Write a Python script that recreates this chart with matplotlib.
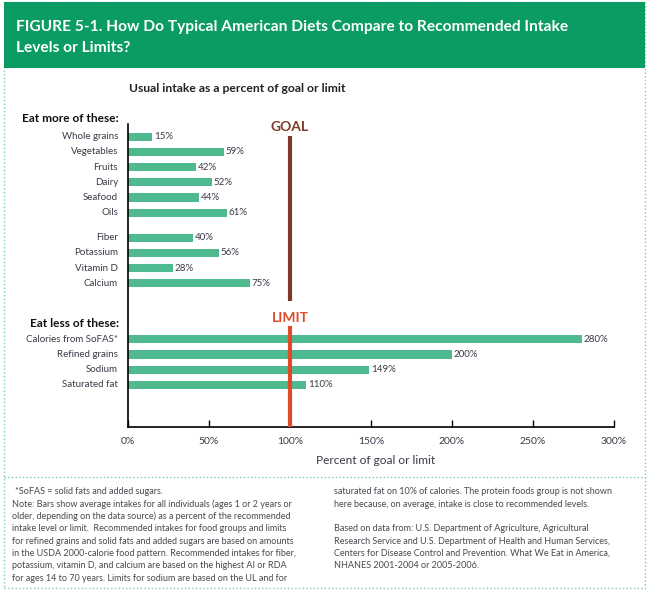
import matplotlib
matplotlib.use('Agg')
import matplotlib.pyplot as plt
from matplotlib.patches import Rectangle
from matplotlib.lines import Line2D

plt.rcParams['font.family'] = ['Lato', 'DejaVu Sans']

# data
more_labels = ['Whole grains', 'Vegetables', 'Fruits', 'Dairy', 'Seafood', 'Oils']
more_values = [15, 59, 42, 52, 44, 61]
nutrient_labels = ['Fiber', 'Potassium', 'Vitamin D', 'Calcium']
nutrient_values = [40, 56, 28, 75]
less_labels = ['Calories from SoFAS*', 'Refined grains', 'Sodium', 'Saturated fat']
less_values = [280, 200, 149, 110]
x_ticks = [0, 50, 100, 150, 200, 250, 300]
goal = 100

title_lines = ['FIGURE 5-1. How Do Typical American Diets Compare to Recommended Intake',
               'Levels or Limits?']
notes_left = [
    '*SoFAS = solid fats and added sugars.',
    'Note: Bars show average intakes for all individuals (ages 1 or 2 years or',
    'older, depending on the data source) as a percent of the recommended',
    'intake level or limit.  Recommended intakes for food groups and limits',
    'for refined grains and solid fats and added sugars are based on amounts',
    'in the USDA 2000-calorie food pattern. Recommended intakes for fiber,',
    'potassium, vitamin D, and calcium are based on the highest AI or RDA',
    'for ages 14 to 70 years. Limits for sodium are based on the UL and for',
]
notes_right = [
    'saturated fat on 10% of calories. The protein foods group is not shown',
    'here because, on average, intake is close to recommended levels.',
    '',
    'Based on data from: U.S. Department of Agriculture, Agricultural',
    'Research Service and U.S. Department of Health and Human Services,',
    'Centers for Disease Control and Prevention. What We Eat in America,',
    'NHANES 2001-2004 or 2005-2006.',
]

header_green = '#0a9c63'
bar_green = '#4fb98f'
border_green = '#78cfa8'
goal_brown = '#7a3a27'
limit_red = '#df4a2a'
label_col = '#3b3947'
note_col = '#4a4850'

W, H = 650, 591
fig = plt.figure(figsize=(W / 100, H / 100), dpi=100)


def fx(px):
    return px / W


def fy(py):
    return 1 - py / H


# frame, header band, separator
fig.patches.append(Rectangle((fx(4), fy(588)), fx(645) - fx(4), (588 - 2) / H,
                             transform=fig.transFigure, fill=False,
                             ec=border_green, lw=1, ls=':', zorder=0))
fig.patches.append(Rectangle((fx(4), fy(68)), fx(645) - fx(4), (68 - 2) / H,
                             transform=fig.transFigure, fc=header_green,
                             ec='none', zorder=1))
fig.lines.append(Line2D([fx(4), fx(645)], [fy(476.5), fy(476.5)],
                        transform=fig.transFigure, color=border_green,
                        lw=1, ls=':'))

fig.text(fx(16), fy(26.5), title_lines[0], color='white', weight='bold',
         fontsize=11.2, va='center', ha='left')
fig.text(fx(16), fy(48.5), title_lines[1], color='white', weight='bold',
         fontsize=11.2, va='center', ha='left')

fig.text(fx(129), fy(89), 'Usual intake as a percent of goal or limit',
         weight='bold', fontsize=8.7, va='center', ha='left', color='#222222')

# bar positions in row units, with gaps between the groups
starts = [0, 6.65, 13.33]
groups = [(more_labels, more_values), (nutrient_labels, nutrient_values),
          (less_labels, less_values)]

ax = fig.add_axes([fx(128), fy(427), fx(614) - fx(128), (427 - 124) / H])
ax.set_xlim(0, 300)
ax.set_ylim(19.1, -0.836)

for start, (labels, values) in zip(starts, groups):
    pos = [start + i for i in range(len(values))]
    ax.barh(pos, values, height=0.53, color=bar_green, zorder=2)
    for p, lab, v in zip(pos, labels, values):
        ax.text(v + 1, p, f'{v}%', ha='left', va='center', fontsize=7,
                color=label_col)
        ax.text(-6.2, p, lab, ha='right', va='center', fontsize=7,
                color=label_col)

ax.plot([goal, goal], [-0.05, 10.82], color=goal_brown, lw=3,
        solid_capstyle='butt', zorder=3)
ax.text(goal, -0.66, 'GOAL', ha='center', va='center', fontsize=10,
        weight='bold', color=goal_brown)
ax.plot([goal, goal], [12.48, 19.1], color=limit_red, lw=3,
        solid_capstyle='butt', zorder=3, clip_on=False)
ax.text(goal, 11.93, 'LIMIT', ha='center', va='center', fontsize=10,
        weight='bold', color=limit_red)

fig.text(fx(119), fy(119), 'Eat more of these:', weight='bold', fontsize=8.6,
         ha='right', va='center', color='#111111')
fig.text(fx(119), fy(323.5), 'Eat less of these:', weight='bold', fontsize=8.6,
         ha='right', va='center', color='#111111')

for s in ['top', 'right']:
    ax.spines[s].set_visible(False)
for s in ['left', 'bottom']:
    ax.spines[s].set_linewidth(1.2)
    ax.spines[s].set_color('black')
ax.set_yticks([])
ax.set_xticks(x_ticks)
ax.set_xticklabels([f'{t}%' for t in x_ticks])
ax.tick_params(axis='x', direction='in', length=5, width=1, labelsize=7.5,
               pad=7, labelcolor=label_col)
ax.patch.set_alpha(0)

fig.text(fx(376), fy(461), 'Percent of goal or limit', fontsize=8.6,
         ha='center', va='center', color=label_col)

for i, line in enumerate(notes_left):
    x0 = 15 if i == 0 else 12
    fig.text(fx(x0), fy(491.7 + 12.35 * i), line, fontsize=6.5,
             ha='left', va='center', color=note_col)
for i, line in enumerate(notes_right):
    fig.text(fx(334), fy(491.7 + 12.35 * i), line, fontsize=6.5,
             ha='left', va='center', color=note_col)

fig.savefig('out.png', dpi=100)
